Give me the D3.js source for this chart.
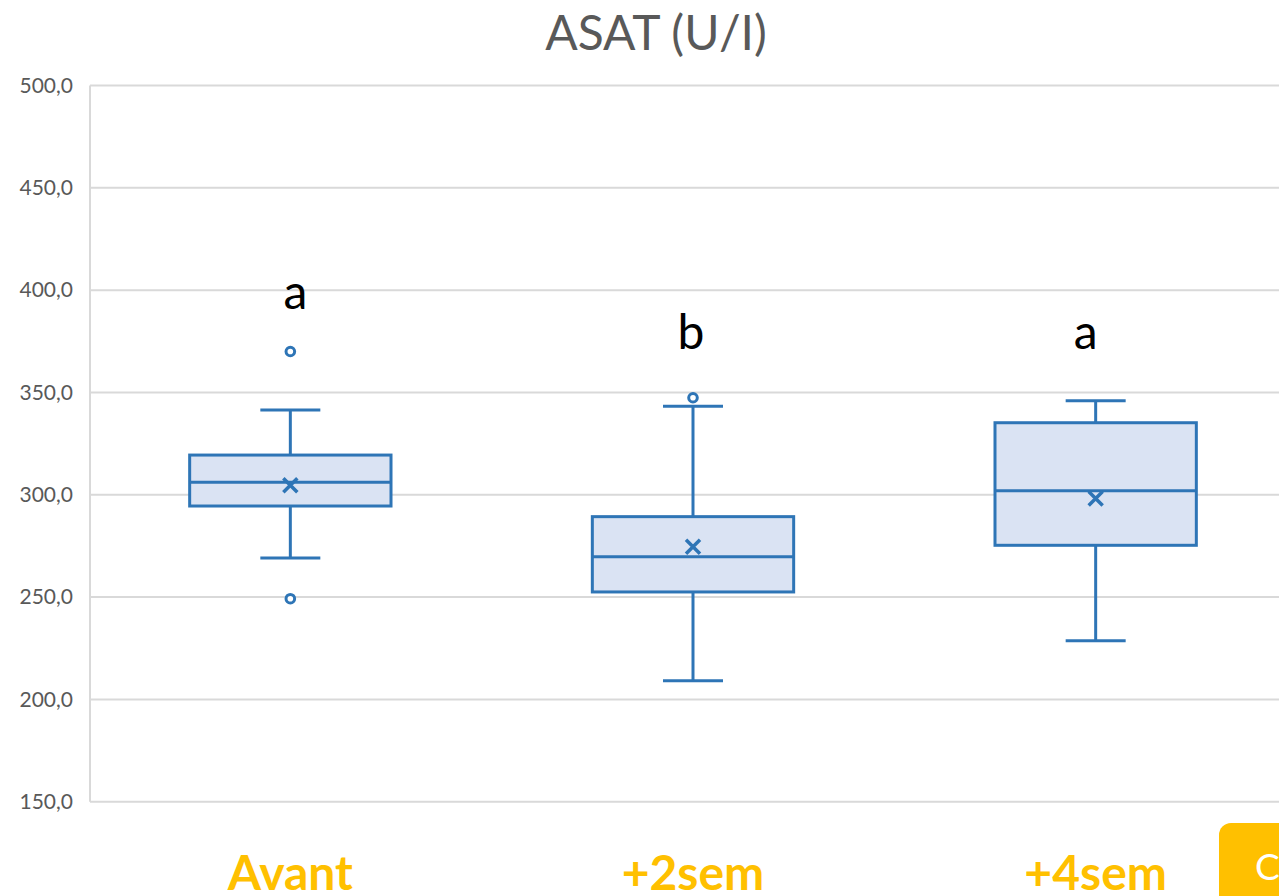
<!DOCTYPE html>
<html>
<head>
<meta charset="utf-8">
<script src="https://cdn.jsdelivr.net/npm/d3@7/dist/d3.min.js"></script>
<style>
  html, body { margin: 0; padding: 0; background: #fff; }
  svg { display: block; font-family: Lato, "Open Sans", sans-serif; }
</style>
</head>
<body>
<svg id="chart"></svg>
<script>
// ── Data ─────────────────────────────────────────────────────────────────────
const categories  = ["Avant", "+2sem", "+4sem"];
const whiskerLow  = [269.1, 209.1, 228.7];
const q1          = [294.5, 252.5, 275.3];
const median      = [306.1, 269.7, 302.0];
const q3          = [319.4, 289.3, 335.2];
const whiskerHigh = [341.4, 343.3, 345.9];
const means       = [304.7, 274.6, 298.2];
const outliers    = [[370.0, 249.2], [347.4], []];
const letters     = ["a", "b", "a"];
const letterValue = [391, 371, 371];
const yTicks      = [150, 200, 250, 300, 350, 400, 450, 500];

// ── Layout ───────────────────────────────────────────────────────────────────
const VW = 1279, VH = 896;
const BLUE = "#2E75B6", FILL = "#DAE3F3", GRID = "#D9D9D9", TXT = "#595959", ORANGE = "#FFC000";
const letterDx = [5, -2, -10];

const svg = d3.select("#chart").attr("width", VW).attr("height", VH);

const x = d3.scaleBand().domain(categories).range([89, 1297]);
const y = d3.scaleLinear().domain([150, 500]).range([801.7, 85.5]);

const fr = d3.formatLocale({ decimal: ",", thousands: " ", grouping: [3], currency: ["", "€"] });
const fmt = fr.format(".1f");

// Grid
svg.append("g")
  .selectAll("line")
  .data(yTicks)
  .join("line")
  .attr("x1", 90).attr("x2", VW)
  .attr("y1", d => y(d)).attr("y2", d => y(d))
  .attr("stroke", GRID).attr("stroke-width", 2);

// Left axis line
svg.append("line")
  .attr("x1", 90).attr("x2", 90)
  .attr("y1", y(500)).attr("y2", y(150))
  .attr("stroke", GRID).attr("stroke-width", 2);

// Y tick labels
const yAxisG = svg.append("g").attr("transform", "translate(90,0)");
yAxisG.call(d3.axisLeft(y).tickValues(yTicks).tickFormat(fmt).tickSize(0).tickPadding(17))
  .call(ax => ax.select(".domain").remove())
  .selectAll("text")
  .attr("font-family", "Lato, sans-serif")
  .attr("font-size", "21px")
  .attr("fill", TXT);

// Title
svg.append("text")
  .attr("x", 656).attr("y", 50)
  .attr("text-anchor", "middle")
  .attr("font-size", "48px")
  .attr("fill", TXT)
  .text("ASAT (U/I)");

// Boxes
const data = categories.map((c, i) => ({
  c, lo: whiskerLow[i], q1: q1[i], med: median[i], q3: q3[i], hi: whiskerHigh[i],
  mean: means[i], out: outliers[i], letter: letters[i], lv: letterValue[i], dx: letterDx[i]
}));

const boxW = x.bandwidth() * 0.5;
const capW = 60;

const g = svg.append("g").attr("stroke", BLUE).attr("stroke-width", 3);
const box = g.selectAll("g.box").data(data).join("g").attr("class", "box")
  .attr("transform", d => `translate(${x(d.c) + x.bandwidth() / 2},0)`);

// whiskers
box.append("line").attr("x1", 0).attr("x2", 0).attr("y1", d => y(d.hi)).attr("y2", d => y(d.q3));
box.append("line").attr("x1", 0).attr("x2", 0).attr("y1", d => y(d.q1)).attr("y2", d => y(d.lo));
box.append("line").attr("x1", -capW / 2).attr("x2", capW / 2).attr("y1", d => y(d.hi)).attr("y2", d => y(d.hi));
box.append("line").attr("x1", -capW / 2).attr("x2", capW / 2).attr("y1", d => y(d.lo)).attr("y2", d => y(d.lo));

// box
box.append("rect")
  .attr("x", -boxW / 2).attr("width", boxW)
  .attr("y", d => y(d.q3)).attr("height", d => y(d.q1) - y(d.q3))
  .attr("fill", FILL);
box.append("line").attr("x1", -boxW / 2).attr("x2", boxW / 2)
  .attr("y1", d => y(d.med)).attr("y2", d => y(d.med));

// mean marker
const mk = 7;
box.append("path")
  .attr("d", d => {
    const my = y(d.mean);
    return `M${-mk},${my - mk}L${mk},${my + mk}M${-mk},${my + mk}L${mk},${my - mk}`;
  })
  .attr("stroke-width", 3.5)
  .attr("fill", "none");

// outliers
box.selectAll("circle")
  .data(d => d.out)
  .join("circle")
  .attr("cx", 0).attr("cy", v => y(v))
  .attr("r", 4.3)
  .attr("fill", "#fff");

// significance letters
svg.append("g").selectAll("text")
  .data(data)
  .join("text")
  .attr("x", d => x(d.c) + x.bandwidth() / 2 + d.dx)
  .attr("y", d => y(d.lv))
  .attr("text-anchor", "middle")
  .attr("font-size", "48px")
  .attr("fill", "#000")
  .text(d => d.letter);

// category labels
svg.append("g").selectAll("text")
  .data(categories)
  .join("text")
  .attr("x", d => x(d) + x.bandwidth() / 2)
  .attr("y", 890)
  .attr("text-anchor", "middle")
  .attr("font-size", "48px")
  .attr("font-weight", "bold")
  .attr("fill", ORANGE)
  .text(d => d);

// corner tag
svg.append("rect")
  .attr("x", 1219).attr("y", 823)
  .attr("width", 120).attr("height", 120)
  .attr("rx", 12)
  .attr("fill", ORANGE);
svg.append("text")
  .attr("x", 1255).attr("y", 880)
  .attr("font-size", "37px")
  .attr("fill", "#fff")
  .text("C");
</script>
</body>
</html>
